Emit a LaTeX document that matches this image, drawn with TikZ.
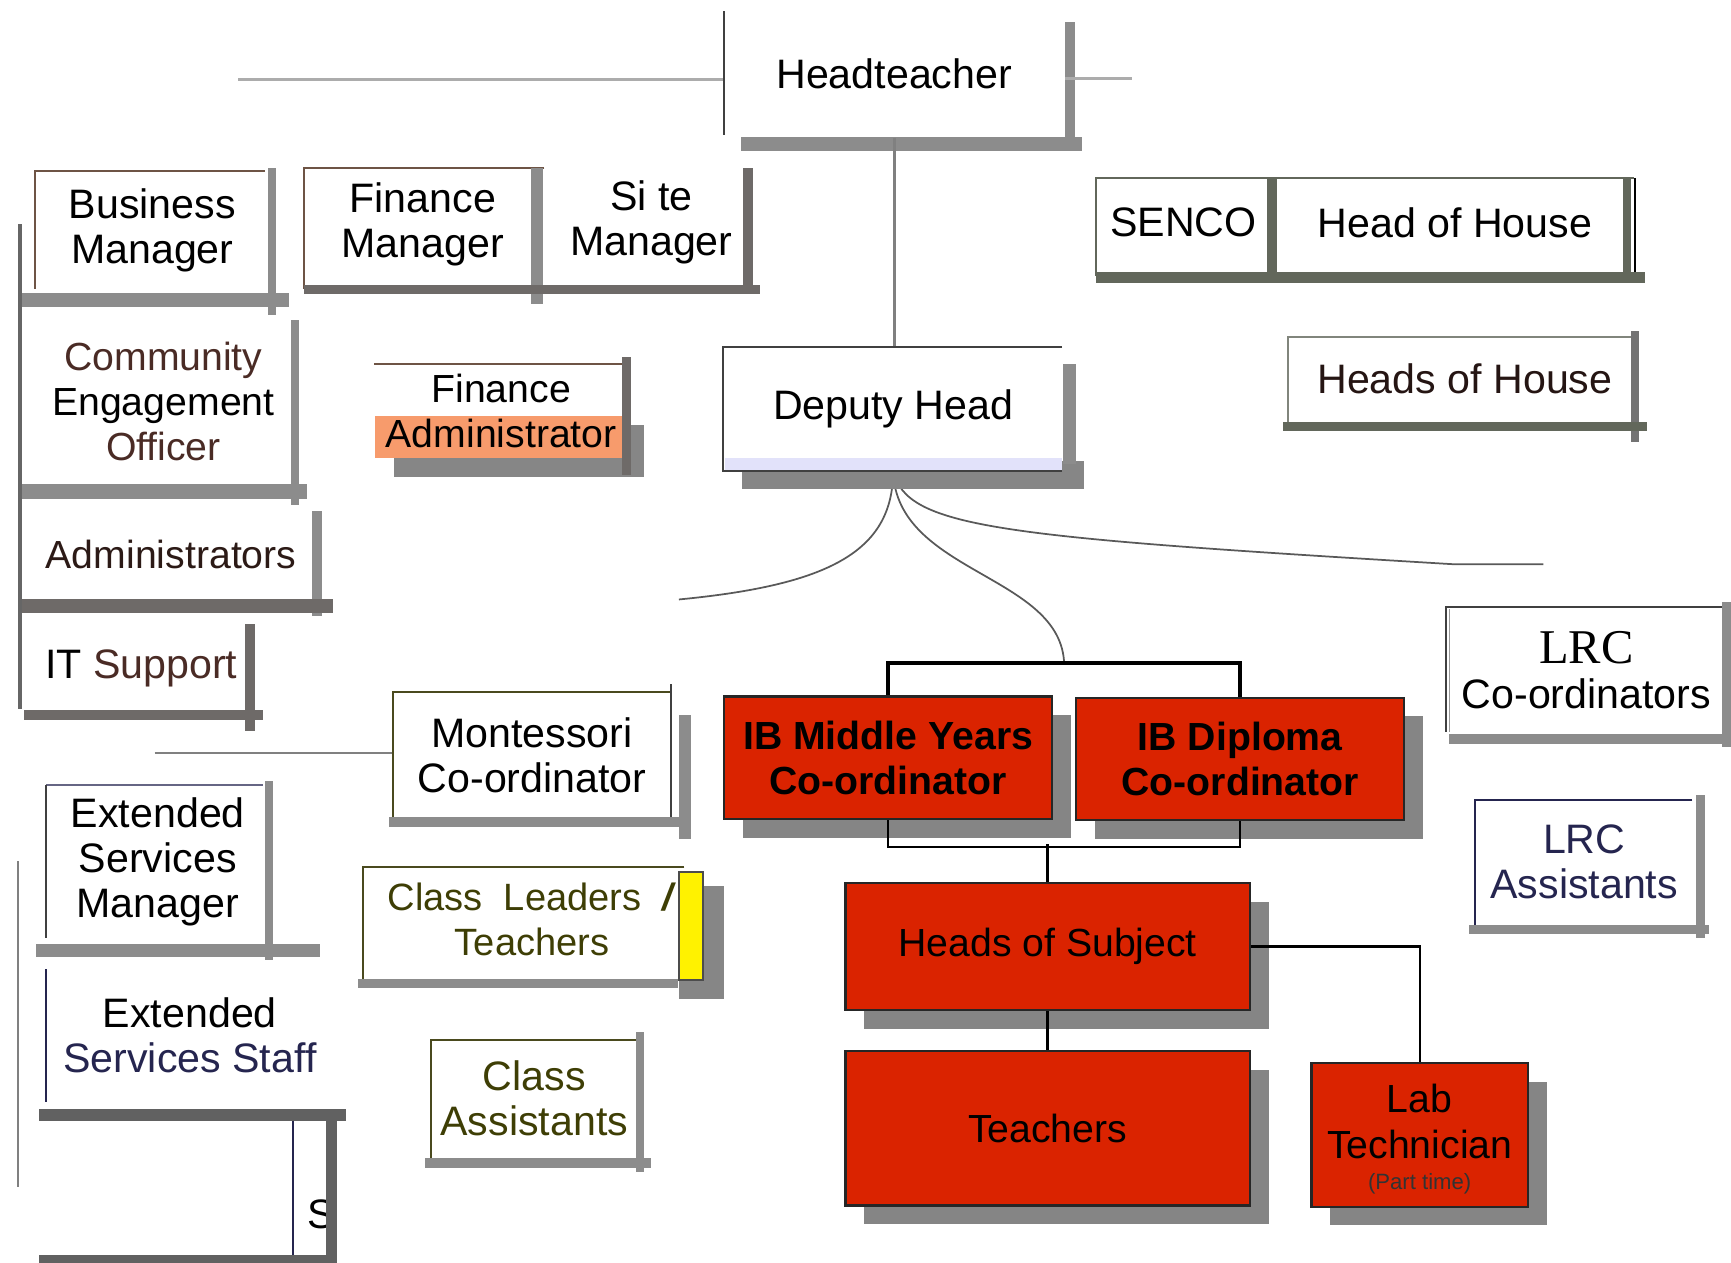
\documentclass[tikz,border=0pt]{standalone}
\usepackage{fontspec}
\setmainfont{Liberation Sans}
\newfontfamily\serifrm{Liberation Serif}
\usetikzlibrary{shadows}
\definecolor{ibred}{HTML}{DA2300}
\definecolor{barg}{HTML}{8C8C8C}
\definecolor{bardk}{HTML}{6E6A68}
\definecolor{bargn}{HTML}{62675B}
\definecolor{shadeg}{HTML}{858585}
\definecolor{rimbrn}{HTML}{6E5445}
\definecolor{txtbrn}{HTML}{4A2B25}
\definecolor{rimolv}{HTML}{4A4A1E}
\definecolor{txtolv}{HTML}{3E3E05}
\definecolor{navyt}{HTML}{25254F}
\definecolor{salmon}{HTML}{F79B6C}
\definecolor{lav}{HTML}{E2E2FA}
\begin{document}
\begin{tikzpicture}[x=0.01cm,y=-0.01cm,
  every node/.style={font=\fontsize{10.6}{11.6}\selectfont,align=center,inner sep=0pt},
  small/.style={font=\fontsize{10.1}{11.6}\selectfont},
  rim/.style={line width=0.5pt,draw=#1}, rim/.default=black!75,
  bar/.style={fill=barg}, darkbar/.style={fill=bardk}, greenbar/.style={fill=bargn},
  link/.style={draw=gray!80!black,line width=0.5pt},
  fan/.style={draw=black!65,line width=0.45pt},
  redbox/.style={draw=black!85,line width=0.6pt,fill=ibred,
    drop shadow={shadow xshift=0.17cm,shadow yshift=-0.17cm,fill=shadeg,opacity=1}},
  ibtext/.style={font=\fontsize{10.1}{11.6}\selectfont\bfseries}]
\useasboundingbox (0,0) rectangle (1568,1144);

% head and deputy
\node (head) at (810,67) [minimum width=3.08cm,minimum height=1.14cm] {Headteacher};
\draw[rim] (656,10) -- (656,122);
\fill[bar] (965,20) rectangle (974,126);
\fill[bar] (671,124) rectangle (980,137);
\coordinate (headL) at (216,72);
\coordinate (headR) at (1025,71);
\draw[link,draw=gray!65,line width=0.7pt] (headL) -- (headL -| head.west);
\draw[link,draw=gray!65,line width=0.7pt] (headR) -- (headR -| head.east);

\node (dep) at (809,370) [minimum width=3.07cm,minimum height=1.12cm] {Deputy Head};
\draw[link,draw=gray,line width=0.7pt] (head.south) -- (head.south |- dep.north);
\coordinate (fanL) at (615,543);
\coordinate (fanR) at (1398,511);
\coordinate (ibtop) at (964,602);
\draw[fan] (dep.south) .. controls (809,500) and (750,530) .. (fanL);
\draw[fan] (dep.south) .. controls (812,520) and (962,520) .. (ibtop);
\draw[fan] (dep.south) .. controls (822,478) and (900,486) .. (1315,511) -- (fanR);
\fill[fill=gray!95] (672,418) rectangle (982,443);
\fill[bar] (963,330) rectangle (975,420);
\fill[lav] (657,415) rectangle (962,426);
\draw[rim] (962,314) -- (655,314) -- (655,427) -- (962,427);

% IB side
\node[redbox,ibtext,minimum width=2.97cm,minimum height=1.11cm] (ibm) at (804.5,686.5) {IB Middle Years\\Co-ordinator};
\node[redbox,ibtext,minimum width=2.97cm,minimum height=1.11cm] (ibd) at (1123.5,687.5) {IB Diploma\\Co-ordinator};
\draw[line width=1pt] (ibm.north) -- ++(0,-29) -| (ibd.north);
\draw[line width=0.6pt] (ibm.south) -- ++(0,24) -| (ibd.south);
\node[redbox,small,minimum width=3.66cm,minimum height=1.15cm] (hos) at (949,857.5) {Heads of Subject};
\draw[line width=0.6pt] (hos.north) -- ++(0,-34);
\node[redbox,small,minimum width=3.66cm,minimum height=1.40cm] (teach) at (949,1022) {Teachers};
\node[redbox,minimum width=1.96cm,minimum height=1.30cm] (lab) at (1286,1028) {};
\node[small] (labtxt) at (1286,1032) {Lab\\Technician\\[-3.5pt]{\fontsize{5.7}{6}\selectfont\color{black!80}(Part time)}};
\draw[line width=0.6pt] (hos.south) -- (teach.north);
\draw[line width=0.6pt] (hos.east) -| (lab.north);

% business side
\draw[rim=black!60,line width=0.9pt] (18,203) -- (18,642);
\node (bus) at (138,209) {Business\\Manager};
\draw[rim=rimbrn] (240,155) -- (32,155) -- (32,262);
\fill[bar] (243,152) rectangle (250,285);
\fill[bar] (20,265) rectangle (262,278);

\node (fin) at (383,203) {Finance\\Manager};
\draw[rim=rimbrn] (493,152) -- (275,152) -- (275,262);
\fill[bar] (481,152) rectangle (492,275);
\fill[darkbar] (275,258) rectangle (688,266);
\node (site) at (590,201) {Si te\\Manager};
\fill[darkbar] (673,152) rectangle (682,262);

\node[small] (ceo) at (148,364) {\textcolor{txtbrn}{Community}\\Engagement\\\textcolor{txtbrn}{Officer}};
\fill[bar] (264,290) rectangle (271,457);
\fill[bar] (20,438) rectangle (278,452);

\fill[fill=gray!95] (357,385) rectangle (583,432);
\fill[salmon] (340,377) rectangle (563,415);
\draw[rim=rimbrn] (339,330) -- (566,330);
\fill[darkbar] (563,323) rectangle (572,430);
\node[small] (fadm) at (454,372) {Finance\\Administrator};

\node[small] (adm) at (155,502) {\textcolor{txtbrn!60!black}{Administrators}};
\fill[bar] (283,463) rectangle (292,558);
\fill[darkbar] (20,543) rectangle (302,555);

\node (its) at (128,605) {IT \textcolor{txtbrn}{Support}};
\fill[darkbar] (222,565) rectangle (231,662);
\fill[darkbar] (22,643) rectangle (238,652);

% montessori and class staff
\node (mont) at (482,684) [minimum width=2.52cm,minimum height=1.13cm] {Montessori\\Co-ordinator};
\coordinate (montL) at (140,682);
\draw[link,draw=gray,line width=0.7pt] (montL) -- (montL -| mont.west);
\draw[rim=rimolv] (608,627) -- (356,627) -- (356,740);
\draw[rim] (608,620) -- (608,748);
\fill[bar] (615,648) rectangle (626,760);
\fill[bar] (352,740) rectangle (615,749);

\node[font=\fontsize{9.8}{11.6}\selectfont] (clt) at (482,833) {\color{txtolv}Class\ \ Leaders\ \ \textbf{\textit{/}}\\\color{txtolv}Teachers};
\draw[rim=rimolv] (620,785) -- (329,785) -- (329,890);
\fill[fill=gray!95] (615,803) rectangle (656,905);
\filldraw[draw=black!70,fill=yellow,line width=0.5pt] (615,790) rectangle (637,888);
\fill[bar] (324,887) rectangle (614,895);

\node (cas) at (484,995) {\color{txtolv}Class\\\color{txtolv}Assistants};
\draw[rim=rimolv] (576,942) -- (390,942) -- (390,1050);
\fill[bar] (576,935) rectangle (583,1062);
\fill[bar] (385,1049) rectangle (590,1058);

% extended services
\draw[rim=gray] (16,780) -- (16,1075);
\node (esm) at (143,781) {Extended\\Services\\Manager};
\draw[rim=navyt!70] (238,711) -- (42,711);
\draw[rim] (42,711) -- (42,850);
\fill[bar] (240,707) rectangle (247,870);
\fill[bar] (33,855) rectangle (290,867);

\node (ess) at (172,938) {Extended\\\textcolor{navyt}{Services Staff}};
\draw[rim=navyt] (42,878) -- (42,998);
\fill[fill=black!62] (35,1005) rectangle (313,1015);

\draw[rim=navyt] (265,1015) -- (265,1140);
\node (sfrag) at (291,1100) {S};
\fill[fill=black!62] (295,1015) rectangle (305,1144);
\fill[fill=black!62] (35,1137) rectangle (305,1144);

% right side
\node (senco) at (1072,201) {SENCO};
\node (hoh) at (1318,202) {Head of House};
\draw[rim=bargn] (1480,161) -- (993,161) -- (993,250);
\fill[greenbar] (1148,161) rectangle (1157,248);
\fill[greenbar] (1470,161) rectangle (1477,248);
\draw[rim=black] (1481,161) -- (1481,248);
\fill[greenbar] (993,246) rectangle (1490,256);

\node (hsh) at (1327,343) {\textcolor{txtbrn!50!black}{Heads of House}};
\draw[rim=bargn!80] (1478,305) -- (1167,305) -- (1167,383);
\fill[fill=black!55] (1477,300) rectangle (1485,400);
\fill[greenbar] (1162,382) rectangle (1492,390);

\node (lrcc) at (1437,607) {{\serifrm\fontsize{12.5}{13}\selectfont LRC}\\Co-ordinators};
\draw[rim] (1560,550) -- (1310,550) -- (1310,663);
\draw[rim=black!40] (1313,552) -- (1313,663);
\fill[bar] (1560,545) rectangle (1568,677);
\fill[bar] (1313,665) rectangle (1568,674);

\node (lrca) at (1435,781) {\color{navyt}LRC\\\color{navyt}Assistants};
\draw[rim=navyt] (1533,725) -- (1336,725) -- (1336,838);
\fill[bar] (1536,720) rectangle (1544,850);
\fill[bar] (1331,838) rectangle (1548,846);
\end{tikzpicture}
\end{document}
